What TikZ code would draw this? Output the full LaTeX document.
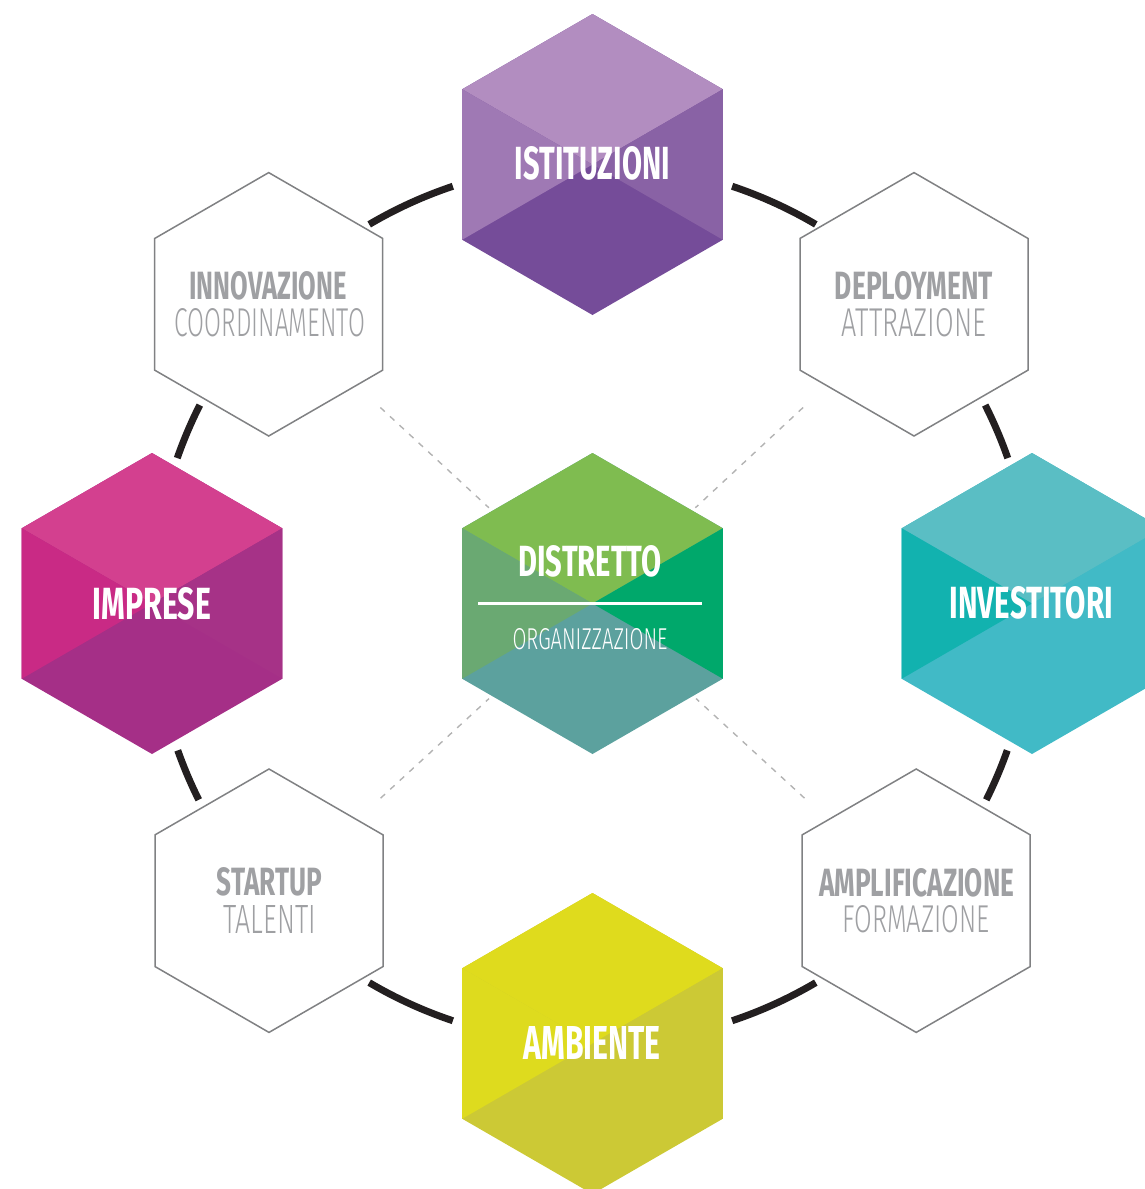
\documentclass[tikz,border=0pt]{standalone}
\usepackage{fontspec}
\usepackage{graphicx}
\usetikzlibrary{calc}
\newfontfamily\fsans{Fira Sans}
\newfontfamily\flight{Fira Sans Light}
\definecolor{pA}{HTML}{B28DC0}\definecolor{pB}{HTML}{9F79B4}\definecolor{pC}{HTML}{8962A5}\definecolor{pD}{HTML}{754C99}
\definecolor{gA}{HTML}{7FBC50}\definecolor{gB}{HTML}{6AA972}\definecolor{gC}{HTML}{00A86B}\definecolor{gD}{HTML}{5CA19E}
\definecolor{tA}{HTML}{5ABEC4}\definecolor{tB}{HTML}{12B2AF}\definecolor{tC}{HTML}{41BAC6}\definecolor{tD}{HTML}{41BAC6}
\definecolor{mA}{HTML}{D3408F}\definecolor{mB}{HTML}{C92A85}\definecolor{mC}{HTML}{A63287}\definecolor{mD}{HTML}{A52F87}
\definecolor{yA}{HTML}{DFDB1D}\definecolor{yB}{HTML}{DEDB1E}\definecolor{yC}{HTML}{CCC935}\definecolor{yD}{HTML}{CCC935}
\definecolor{ringc}{HTML}{231F20}
\definecolor{txtgray}{HTML}{9FA0A3}
\definecolor{hexline}{HTML}{808183}
\definecolor{dashc}{HTML}{B3B3B3}
\newcommand\fitbox[3]{\resizebox{#1pt}{#2pt}{#3}}
\newcommand\hexcube[5]{%
  \begin{scope}[shift={(#1)}]
    \fill[#5] (0,-150.5) -- (130.3,-75.25) -- (130.3,75.25) -- (0,150.5) -- (-130.3,75.25) -- (-130.3,-75.25) -- cycle;
    \fill[#2] (0,-150.5) -- (130.3,-75.25) -- (0,0) -- (-130.3,-75.25) -- cycle;
    \fill[#3] (-130.3,-75.25) -- (0,0) -- (-130.3,75.25) -- cycle;
    \fill[#4] (130.3,-75.25) -- (0,0) -- (130.3,75.25) -- cycle;
  \end{scope}}
\newcommand\hexline[1]{%
  \begin{scope}[shift={(#1)}]
    \draw[outhex] (0,-131.7) -- (114,-65.85) -- (114,65.85) -- (0,131.7) -- (-114,65.85) -- (-114,-65.85) -- cycle;
  \end{scope}}
\begin{document}
\begin{tikzpicture}[x=1pt,y=-1pt,
  ring/.style={line width=7pt, draw=ringc},
  dashln/.style={draw=dashc, line width=1.4pt, dash pattern=on 6pt off 7pt},
  outhex/.style={draw=hexline, line width=1.5pt, fill=white},
  ttl/.style={inner sep=0pt, text=white, font=\fsans\bfseries},
  gttl/.style={inner sep=0pt, text=txtgray, font=\fsans\bfseries},
  gsub/.style={inner sep=0pt, text=txtgray, font=\flight},
  wsub/.style={inner sep=0pt, text=white, font=\flight}]
\clip (0,0) rectangle (1145,1189);
\coordinate (O) at (592.5,603.5);
\coordinate (isti) at (592.5,164.5);
\coordinate (amb) at (592.5,1043.5);
\coordinate (imp) at (152,603.5);
\coordinate (inv) at (1032,603.5);
\coordinate (inno) at (268.7,304.3);
\coordinate (depl) at (914,304.3);
\coordinate (start) at (269,900.7);
\coordinate (ampl) at (916.2,900.7);
% dashed spokes
\foreach \h in {inno,depl,start,ampl}
  \draw[dashln] ($(\h)!0.345!(O)$) -- ($(\h)!0.68!(O)$);
% ring arcs
\foreach \a/\b in {108.5/120.5, 59.5/71.5, 153.2/160.7, 19.3/26.8, 199.5/206.5, 333.5/340.5, 239.5/251.5, 288.5/300.5}
  \draw[ring] ([shift={(\a:440pt)}]O) arc[start angle=\a, end angle=\b, radius=440pt];
% outline hexagons
\hexline{inno}\hexline{depl}\hexline{start}\hexline{ampl}
% coloured hexagons
\hexcube{isti}{pA}{pB}{pC}{pD}
\hexcube{O}{gA}{gB}{gC}{gD}
\hexcube{inv}{tA}{tB}{tC}{tD}
\hexcube{imp}{mA}{mB}{mC}{mD}
\hexcube{amb}{yA}{yB}{yC}{yD}
% texts
\node[ttl] (tisti) at (592.5,163.5) {\fitbox{155}{33}{ISTITUZIONI}};
\node[ttl] (tdist) at (590,561.3) {\fitbox{143}{31}{DISTRETTO}};
\coordinate (barL) at (478.3,603.3);
\coordinate (barR) at (702.3,603.3);
\draw[white, line width=3.5pt] (barL) -- (barR);
\node[wsub] (torg) at (590,638.8) {\fitbox{155}{21}{ORGANIZZAZIONE}};
\node[ttl] (tinv) at (1031.3,602.5) {\fitbox{163}{32}{INVESTITORI}};
\node[ttl] (timp) at (152,603.5) {\fitbox{118}{32}{IMPRESE}};
\node[ttl] (tamb) at (592.3,1043) {\fitbox{137}{33}{AMBIENTE}};
\node[gttl] (tinno) at (268,285.5) {\fitbox{157}{28}{INNOVAZIONE}};
\node[gsub] (tcoor) at (270,322.8) {\fitbox{190}{28}{COORDINAMENTO}};
\node[gttl] (tdepl) at (914,286) {\fitbox{158}{28}{DEPLOYMENT}};
\node[gsub] (tattr) at (914,323) {\fitbox{144}{28}{ATTRAZIONE}};
\node[gttl] (tstart) at (269.5,882) {\fitbox{105}{28}{STARTUP}};
\node[gsub] (ttal) at (270,919) {\fitbox{92}{28}{TALENTI}};
\node[gttl] (tampl) at (916.7,882.5) {\fitbox{195}{28}{AMPLIFICAZIONE}};
\node[gsub] (tform) at (916,919.2) {\fitbox{147}{27}{FORMAZIONE}};
\end{tikzpicture}
\end{document}
